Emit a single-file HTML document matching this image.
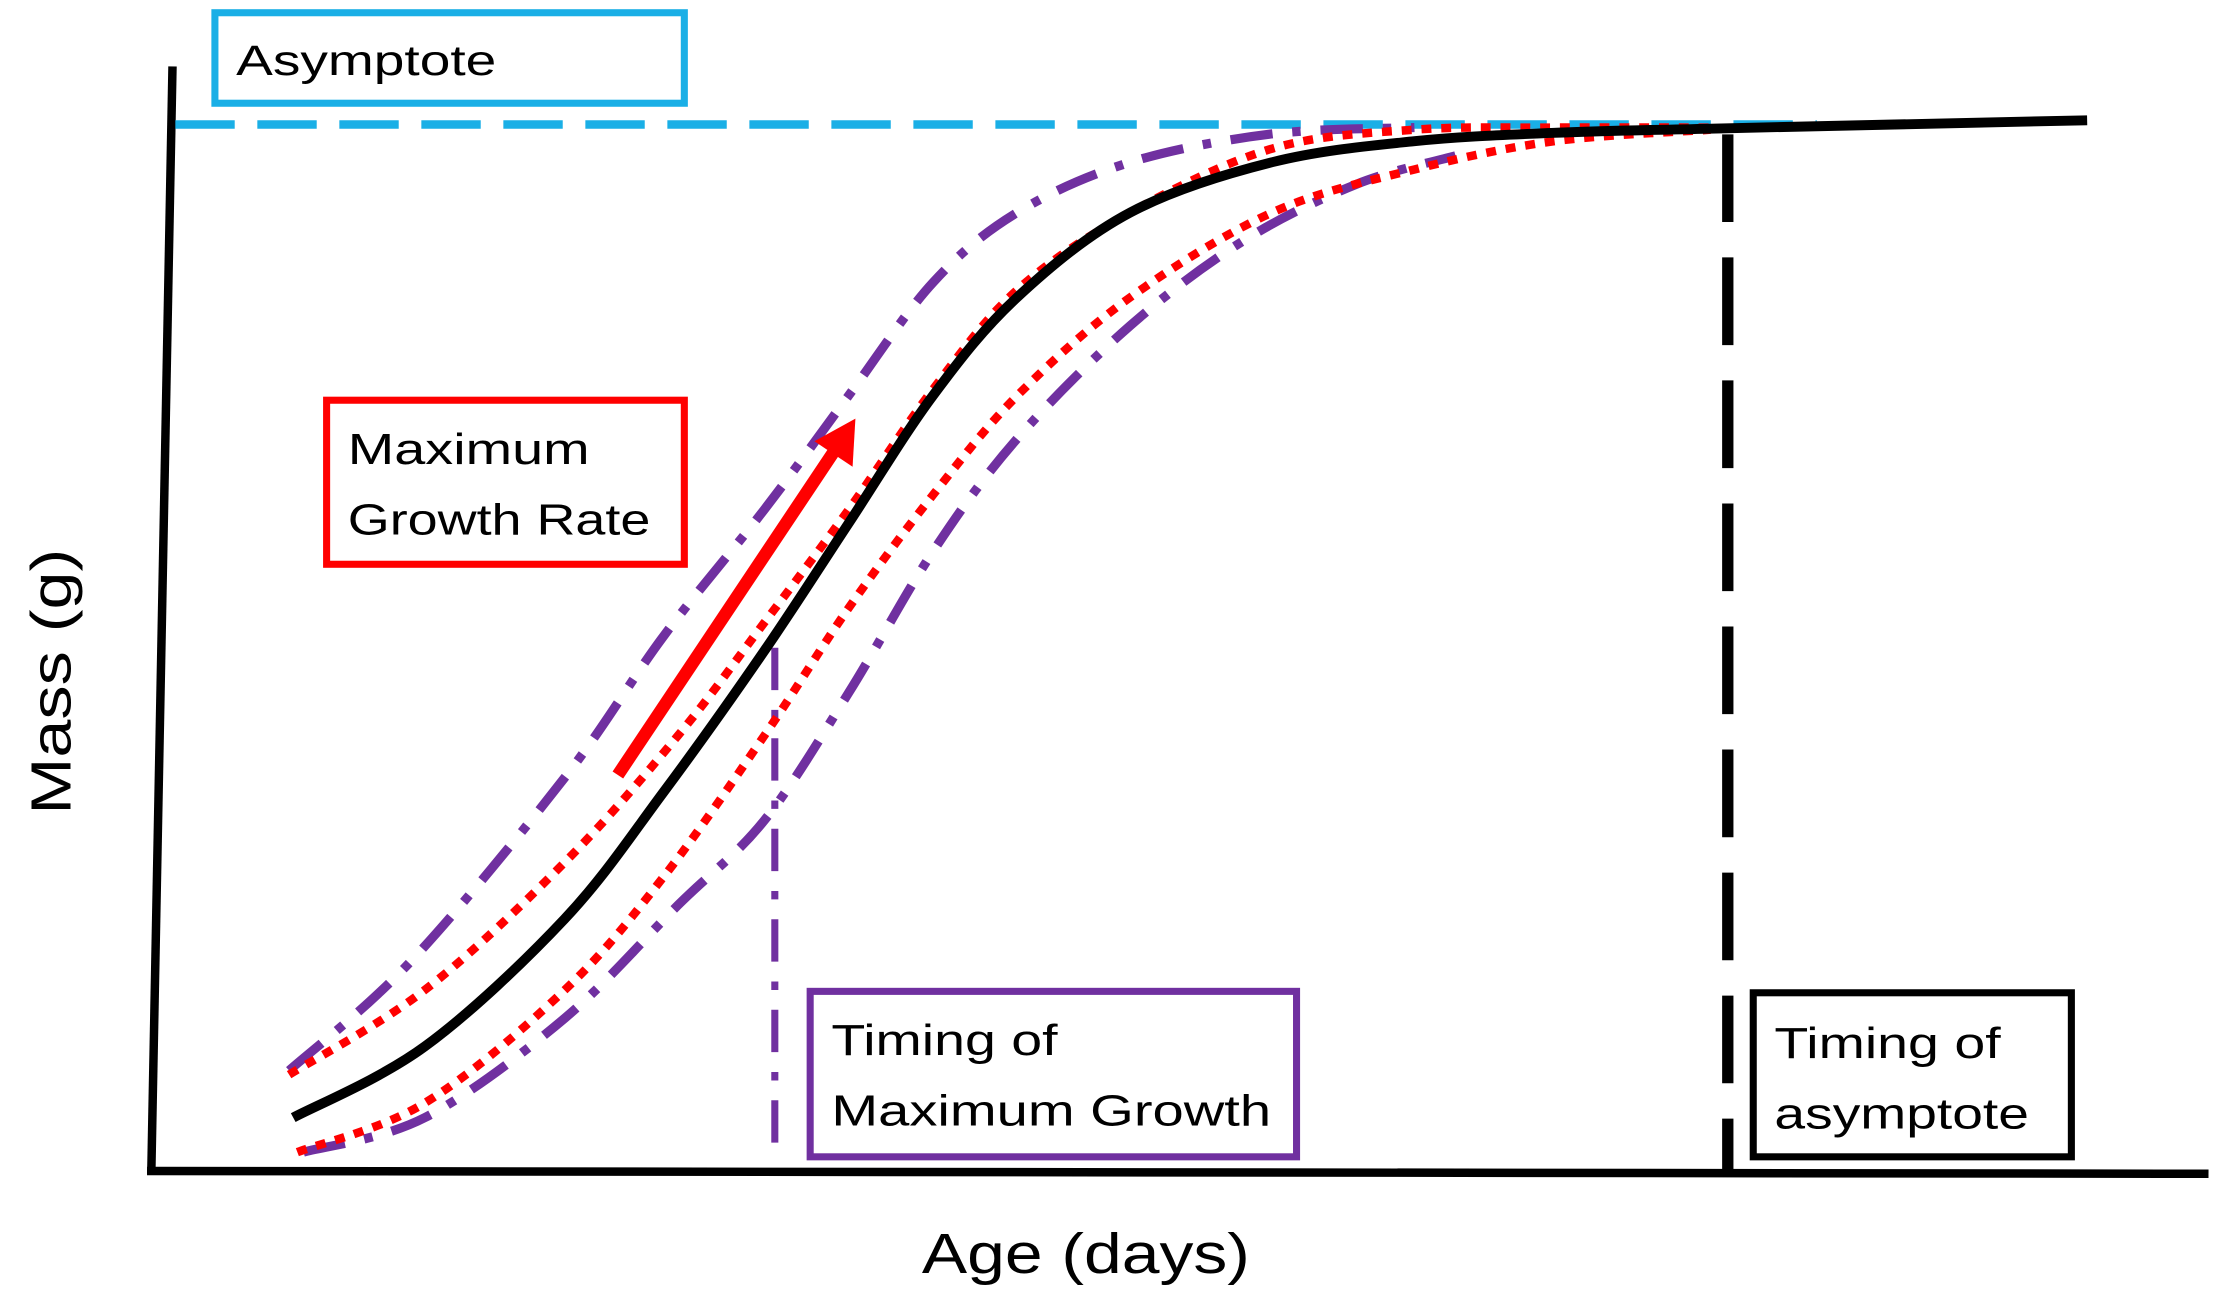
<!DOCTYPE html>
<html><head><meta charset="utf-8"><style>
html,body{margin:0;padding:0;background:#fff;}
svg{display:block;}
text{font-family:"Liberation Sans",sans-serif;}
</style></head><body>
<svg id="chart" width="2217" height="1294" viewBox="0 0 1568 915" preserveAspectRatio="none" xmlns="http://www.w3.org/2000/svg">
<rect width="1568" height="915" fill="#fff"/>
<line x1="122" y1="47" x2="107" y2="830" stroke="#000" stroke-width="6"/>
<line x1="104" y1="828" x2="1562" y2="830" stroke="#000" stroke-width="6"/>
<line x1="124" y1="88" x2="1285" y2="88" stroke="#1AAFE6" stroke-width="6" stroke-dasharray="42,16"/>
<line x1="1222" y1="95" x2="1222" y2="828" stroke="#000" stroke-width="8" stroke-dasharray="62,25"/>
<line x1="548" y1="458" x2="548" y2="818" stroke="#7030A0" stroke-width="5" stroke-dasharray="30,14,6,14"/>
<g id="curves"></g>
<line x1="437" y1="548" x2="592" y2="316" stroke="#FF0000" stroke-width="9"/>
<polygon points="605,296 603,330 576,312" fill="#FF0000"/>
<g>
<rect x="152" y="9" width="332" height="64" fill="#fff" stroke="#1AAFE6" stroke-width="5"/>
<text x="167" y="53" font-size="30" textLength="184" lengthAdjust="spacingAndGlyphs">Asymptote</text>
</g>
<g>
<rect x="231" y="283" width="253" height="116" fill="#fff" stroke="#FF0000" stroke-width="5"/>
<text x="246" y="328" font-size="31" textLength="171" lengthAdjust="spacingAndGlyphs">Maximum</text>
<text x="246" y="378" font-size="31" textLength="214" lengthAdjust="spacingAndGlyphs">Growth Rate</text>
</g>
<g>
<rect x="573" y="701" width="344" height="117" fill="#fff" stroke="#7030A0" stroke-width="5"/>
<text x="588" y="746" font-size="31" textLength="160" lengthAdjust="spacingAndGlyphs">Timing of</text>
<text x="588" y="796" font-size="31" textLength="311" lengthAdjust="spacingAndGlyphs">Maximum Growth</text>
</g>
<g>
<rect x="1240" y="702" width="225" height="116" fill="#fff" stroke="#000" stroke-width="5"/>
<text x="1255" y="748" font-size="31" textLength="160" lengthAdjust="spacingAndGlyphs">Timing of</text>
<text x="1255" y="798" font-size="31" textLength="180" lengthAdjust="spacingAndGlyphs">asymptote</text>
</g>
<text x="768" y="900" font-size="40" text-anchor="middle" textLength="232" lengthAdjust="spacingAndGlyphs">Age (days)</text>
<text transform="translate(50,482) rotate(-90)" font-size="40" text-anchor="middle" textLength="188" lengthAdjust="spacingAndGlyphs">Mass (g)</text>
</svg>
<script>
const meanAge=[6.9,13.3,20.1,24.9,29.8,33.9,38.0,42.1,47.6,54.5,61.4,68.2,75.8,94.1];
const meanMass=[5.1,11.9,24.1,36.2,49.7,61.9,74.1,83.5,91.6,96.4,98.4,99.2,99.6,100.4];
const redUpperAge=[6.7,13.3,20.1,25.6,29.8,33.9,38.0,42.1,47.6,54.5,61.4,68.2,75.8];
const redUpperMass=[9.2,17.3,29.5,41.6,52.4,63.2,74.7,84.2,91.6,97.7,99.5,99.7,99.7];
const redLowerAge=[7.1,13.3,20.1,24.9,29.8,33.9,38.0,42.1,47.6,54.5,61.4,68.2,75.8];
const redLowerMass=[1.8,6.5,17.3,28.1,41.6,53.8,64.6,74.1,83.5,91.6,95.7,98.4,99.5];
const purpleUpperAge=[6.7,12.6,20.1,24.9,29.8,33.9,38.0,42.1,47.6,54.5,61.4];
const purpleUpperMass=[9.6,20.0,37.6,51.1,63.2,74.1,84.9,91.6,96.4,99.1,99.7];
const purpleLowerAge=[7.4,13.3,20.1,25.6,29.8,33.9,38.0,42.1,47.6,53.1,58.6,63.4];
const purpleLowerMass=[1.8,5.1,14.6,25.4,33.5,45.7,59.2,70.0,80.8,88.9,94.3,97.0];
function xScale(a){return 107+a*14.55;}
function yScale(m){return 828-m*7.4;}
function pathFrom(ax,ms){
  const p=ax.map((a,i)=>[xScale(a),yScale(ms[i])]);
  let d='M'+p[0][0]+','+p[0][1];
  for(let i=0;i<p.length-1;i++){
    const p0=p[Math.max(0,i-1)],p1=p[i],p2=p[i+1],p3=p[Math.min(p.length-1,i+2)];
    const c1x=p1[0]+(p2[0]-p0[0])/6,c1y=p1[1]+(p2[1]-p0[1])/6;
    const c2x=p2[0]-(p3[0]-p1[0])/6,c2y=p2[1]-(p3[1]-p1[1])/6;
    d+=' C'+c1x+','+c1y+' '+c2x+','+c2y+' '+p2[0]+','+p2[1];
  }
  return d;
}
const g=document.getElementById('curves');
function addPath(ax,ms,color,w,dash,name){
  const el=document.createElementNS('http://www.w3.org/2000/svg','path');
  el.setAttribute('d',pathFrom(ax,ms));
  el.setAttribute('fill','none');
  el.setAttribute('stroke',color);
  el.setAttribute('stroke-width',w);
  if(dash)el.setAttribute('stroke-dasharray',dash);
  
  
  g.appendChild(el);
}
addPath(purpleUpperAge,purpleUpperMass,'#7030A0',6.5,'30,14,6,14','purple-upper-curve');
addPath(purpleLowerAge,purpleLowerMass,'#7030A0',6.5,'30,14,6,14','purple-lower-curve');
addPath(redUpperAge,redUpperMass,'#FF0000',6,'7,7','red-upper-curve');
addPath(redLowerAge,redLowerMass,'#FF0000',6,'7,7','red-lower-curve');
addPath(meanAge,meanMass,'#000',7,null,'mean-growth-curve');
</script>
</body></html>
